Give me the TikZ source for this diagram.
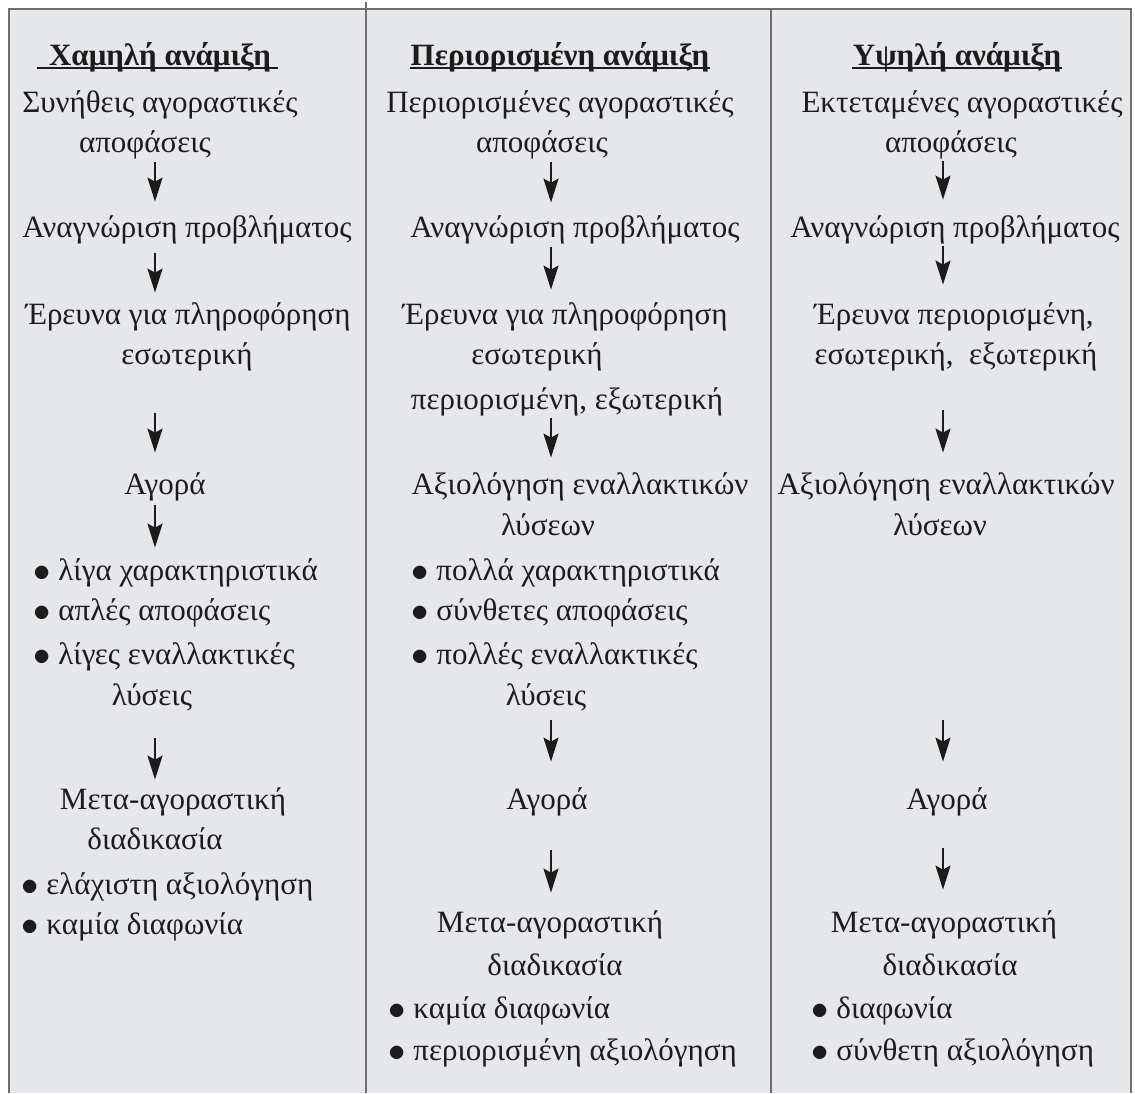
\documentclass[tikz,border=0pt]{standalone}
\usepackage{fontspec}
\setmainfont{Liberation Serif}
\usetikzlibrary{arrows.meta}
\definecolor{panel}{HTML}{E6E7EB}
\definecolor{rulegray}{HTML}{6E6E70}
\definecolor{ink}{HTML}{1E1B1C}
\begin{document}
\begin{tikzpicture}[x=0.5pt,y=-0.5pt,
        font=\fontsize{15.5}{19}\selectfont,
        txt/.style={anchor=base,inner sep=0pt,text height=11pt,text depth=4.5pt,text=ink},
        item/.style={txt,anchor=base west},
        head/.style={txt,font=\fontsize{15.5}{19}\selectfont\bfseries},
        arr/.style={-{Stealth[length=12pt,width=7.5pt,inset=2pt]},ink,line width=1.1pt},
        uline/.style={ink,line width=0.8pt}]
        \def\xl{155}
        \def\xm{551}
        \def\xh{943}
        \def\bl{\raisebox{-0.6pt}{\fontsize{19}{19}\selectfont$\bullet$}\ }
        \useasboundingbox (0,0) rectangle (1135,1093);
        \fill[panel] (9,9) rectangle (1131,1093);
        \draw[rulegray,line width=1pt] (9,1093) -- (9,9) -- (1131,9) -- (1131,1093);
        \draw[rulegray,line width=1pt] (366,2) -- (366,1093) (771,9) -- (771,1093);
        \coordinate (axL) at (\xl,0);
        \coordinate (axM) at (\xm,0);
        \coordinate (axH) at (\xh,0);

        % low involvement
        \node[head] (l0) at (160,65) {Χαμηλή ανάμιξη};
        \node[txt] (l1) at (160,112) {Συνήθεις αγοραστικές};
        \node[txt] (l2) at (145,152) {αποφάσεις};
        \node[txt] (l3) at (187,237) {Αναγνώριση προβλήματος};
        \node[txt] (l4) at (188,324) {Έρευνα για πληροφόρηση};
        \node[txt] (l5) at (187,364) {εσωτερική};
        \node[txt] (l6) at (165,494) {Αγορά};
        \node[item] (l7) at (33,580) {\bl λίγα χαρακτηριστικά};
        \node[item] (l8) at (33,620) {\bl απλές αποφάσεις};
        \node[item] (l9) at (33,664) {\bl λίγες εναλλακτικές};
        \node[txt] (l10) at (152,705) {λύσεις};
        \node[txt] (l11) at (173,809) {Μετα-αγοραστική};
        \node[txt] (l12) at (155,849) {διαδικασία};
        \node[item] (l13) at (21,894) {\bl ελάχιστη αξιολόγηση};
        \node[item] (l14) at (21,934) {\bl καμία διαφωνία};

        % limited involvement
        \node[head] (m0) at (560,65) {Περιορισμένη ανάμιξη};
        \node[txt] (m1) at (560,112) {Περιορισμένες αγοραστικές};
        \node[txt] (m2) at (542,152) {αποφάσεις};
        \node[txt] (m3) at (575,237) {Αναγνώριση προβλήματος};
        \node[txt] (m4) at (565,324) {Έρευνα για πληροφόρηση};
        \node[txt] (m5) at (537,364) {εσωτερική};
        \node[txt] (m6) at (567,409) {περιορισμένη, εξωτερική};
        \node[txt] (m7) at (580,494) {Αξιολόγηση εναλλακτικών};
        \node[txt] (m8) at (548,535) {λύσεων};
        \node[item] (m9) at (411,580) {\bl πολλά χαρακτηριστικά};
        \node[item] (m10) at (411,620) {\bl σύνθετες αποφάσεις};
        \node[item] (m11) at (411,664) {\bl πολλές εναλλακτικές};
        \node[txt] (m12) at (546,705) {λύσεις};
        \node[txt] (m13) at (547,809) {Αγορά};
        \node[txt] (m14) at (550,932) {Μετα-αγοραστική};
        \node[txt] (m15) at (555,975) {διαδικασία};
        \node[item] (m16) at (388,1018) {\bl καμία διαφωνία};
        \node[item] (m17) at (388,1060) {\bl περιορισμένη αξιολόγηση};

        % high involvement
        \node[head] (h0) at (957,65) {Υψηλή ανάμιξη};
        \node[txt] (h1) at (962,112) {Εκτεταμένες αγοραστικές};
        \node[txt] (h2) at (951,152) {αποφάσεις};
        \node[txt] (h3) at (955,237) {Αναγνώριση προβλήματος};
        \node[txt] (h4) at (954,324) {Έρευνα περιορισμένη,};
        \node[txt] (h5) at (956,364) {εσωτερική, \ εξωτερική};
        \node[txt] (h6) at (946,494) {Αξιολόγηση εναλλακτικών};
        \node[txt] (h7) at (940,535) {λύσεων};
        \node[txt] (h8) at (947,809) {Αγορά};
        \node[txt] (h9) at (944,932) {Μετα-αγοραστική};
        \node[txt] (h10) at (950,975) {διαδικασία};
        \node[item] (h11) at (811,1018) {\bl διαφωνία};
        \node[item] (h12) at (811,1060) {\bl σύνθετη αξιολόγηση};

        \draw[uline,shorten <=-6pt,shorten >=-3.5pt] ([yshift=-1.5pt]l0.base west) -- ([yshift=-1.5pt]l0.base east);
        \draw[uline] ([yshift=-1.5pt]m0.base west) -- ([yshift=-1.5pt]m0.base east);
        \draw[uline] ([yshift=-1.5pt]h0.base west) -- ([yshift=-1.5pt]h0.base east);

        \foreach \a/\b/\s/\e in {l2/l3/0.5/6.5, l3/l4/3.5/4.5, l5/l6/20/9.5, l6/l7/1/5, l10/l11/12/3.5}
            \draw[arr,shorten <=\s pt,shorten >=\e pt] (\a.south -| axL) -- (\b.north -| axL);
        \foreach \a/\b/\s/\e in {m2/m3/0.5/6, m3/m4/0.5/6, m6/m7/0/7, m12/m13/3/12.5, m13/m14/16/8.5}
            \draw[arr,shorten <=\s pt,shorten >=\e pt] (\a.south -| axM) -- (\b.north -| axM);
        \foreach \a/\b/\s/\e in {h2/h3/0/7.5, h3/h4/0/8.5, h5/h6/18.5/9.5, h7/h8/88/12.5, h8/h9/15/10}
            \draw[arr,shorten <=\s pt,shorten >=\e pt] (\a.south -| axH) -- (\b.north -| axH);
\end{tikzpicture}
\end{document}
